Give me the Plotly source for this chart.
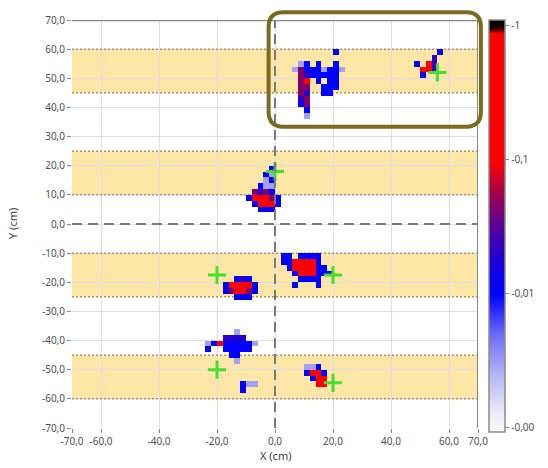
import numpy as np
import plotly.graph_objects as go

# ---- data -------------------------------------------------------------
# Measurement grid: 2 cm cells, centres from -69 to 69 cm on both axes
GRID_X = np.arange(-69, 70, 2)
GRID_Y = np.arange(-69, 70, 2)

# Cell amplitude per symbol (signed, as shown on the colour bar)
LEVELS = {"w": -0.003, "b": -0.01, "d": -0.02, "p": -0.045, "r": -0.3}

# Detected clusters: (x of first column, y of first row, rows top->bottom)
CLUSTER_A = (7, 59, [".......b.",
                     ".........",
                     ".wb.b..b.",
                     "wpbbbwbbw",
                     ".pdbbbbb.",
                     ".pr.b.bb.",
                     ".pp..bbb.",
                     ".pd..bb..",
                     ".dp......",
                     ".bp......",
                     "..b......",
                     "..w......"])
CLUSTER_B = (49, 59, ["....b",
                      "...d.",
                      "b.rd.",
                      ".rrd.",
                      ".b..."])
CLUSTER_C = (-9, 19, ["....b.",
                      "...bw.",
                      "...wb.",
                      "..bww.",
                      ".pdpb.",
                      "brrrpb",
                      ".brrrb",
                      "..bbb."])
CLUSTER_D = (3, -11, ["bb.bbbb..",
                      "bbrrrrb..",
                      ".brrrrbb.",
                      "..brrrbbb",
                      "...bbbb..",
                      "..b...b.."])
CLUSTER_E = (-17, -19, ["..bdb..",
                        "brrrrb.",
                        "bprrpb.",
                        "..bbb.."])
CLUSTER_F = (-23, -37, [".....w...",
                        "...dddd..",
                        "wbrbbbbbw",
                        "b..bbbbb.",
                        "....bb...",
                        ".....w..."])
CLUSTER_G = (-11, -55, ["bww",
                        "b.."])
CLUSTER_H = (11, -49, ["wwb..",
                       "brrb.",
                       ".brr.",
                       "..rr."])
CLUSTERS = [CLUSTER_A, CLUSTER_B, CLUSTER_C, CLUSTER_D,
            CLUSTER_E, CLUSTER_F, CLUSTER_G, CLUSTER_H]

# Reference positions (green crosses)
REF_X = [0, 56, 20, -20, -20, 20]
REF_Y = [18, 52, -17.5, -17.5, -50, -54.5]

# Lane bands (y ranges, cm)
BANDS = [(45, 60), (10, 25), (-25, -10), (-60, -45)]

# Axis ticks
X_TICKS = [-70, -60, -40, -20, 0, 20, 40, 60, 70]
Y_TICKS = list(range(-70, 71, 10))
CB_TICKS = [0, -1, -2, -3]
CB_LABELS = ["-1", "-0,1", "-0,01", "-0,00"]

# ---- build the cell matrix ------------------------------------------------
z = np.full((len(GRID_Y), len(GRID_X)), np.nan)
for x0, y0, rows in CLUSTERS:
    for r, row in enumerate(rows):
        for c, ch in enumerate(row):
            if ch in LEVELS:
                xi = int(np.where(GRID_X == x0 + 2 * c)[0][0])
                yi = int(np.where(GRID_Y == y0 - 2 * r)[0][0])
                z[yi, xi] = np.log10(abs(LEVELS[ch]))

ZMIN, ZMAX = -3.03, 0.044
stops = [(-3.03, "#f8f8fc"), (-2.9, "#ececf8"), (-2.6, "#b4b4f4"),
         (-2.3, "#6a6af8"), (-2.0, "#0000ff"), (-1.8, "#1400e0"),
         (-1.55, "#4a00a8"), (-1.3, "#90005c"), (-1.05, "#f00010"),
         (-0.98, "#ff0000"), (-0.06, "#ff0000"), (-0.02, "#200000"),
         (0.044, "#000000")]
colorscale = [[(v - ZMIN) / (ZMAX - ZMIN), c] for v, c in stops]


def fmt(v):
    return f"{v:.1f}".replace(".", ",")


FONT = "Noto Sans"
fig = go.Figure()

fig.add_trace(go.Heatmap(
    x=GRID_X, y=GRID_Y, z=z, zmin=ZMIN, zmax=ZMAX,
    colorscale=colorscale, hoverinfo="skip",
    colorbar=dict(
        x=1.027, xanchor="left", y=1.0, yanchor="top",
        len=1.0097, lenmode="fraction", thickness=16,
        xpad=0, ypad=0, outlinecolor="#8a8a8a", outlinewidth=1.5,
        tickvals=CB_TICKS, ticktext=CB_LABELS, ticks="outside",
        ticklen=4, tickcolor="#888888",
        tickfont=dict(family=FONT, size=10, color="#505050"),
    ),
))

fig.add_trace(go.Scatter(
    x=REF_X, y=REF_Y, mode="markers", hoverinfo="skip", showlegend=False,
    marker=dict(symbol="cross-thin", size=13,
                line=dict(width=3, color="#44e030")),
))

shapes = []
for lo, hi in BANDS:
    shapes.append(dict(type="rect", xref="x", yref="y", x0=-70, x1=70,
                       y0=lo, y1=hi, fillcolor="#fde6a6",
                       line=dict(width=0), layer="below"))
    for yv in (lo, hi):
        shapes.append(dict(type="line", xref="x", yref="y", x0=-70, x1=70,
                           y0=yv, y1=yv, layer="between",
                           line=dict(color="#b8905a", width=1.5,
                                     dash="2px,2px")))

# dashed zero lines
shapes.append(dict(type="line", xref="x", yref="y", x0=-70, x1=70, y0=0, y1=0,
                   line=dict(color="#7a7a7a", width=2, dash="10px,6px")))
shapes.append(dict(type="line", xref="x", yref="y", x0=0, x1=0, y0=-70, y1=70,
                   line=dict(color="#7a7a7a", width=2, dash="10px,6px")))
# top and right frame lines
shapes.append(dict(type="line", xref="x", yref="y", x0=-70, x1=70, y0=70, y1=70,
                   line=dict(color="#888888", width=2.5)))
shapes.append(dict(type="line", xref="x", yref="y", x0=70, x1=70, y0=-70, y1=70,
                   line=dict(color="#888888", width=2)))

# rounded highlight box (defined in cm, drawn in paper space so it is not clipped)
BOX = dict(x0=-2.2, x1=71.0, y0=33.4, y1=72.7)
def px_(xc):
    return (xc + 70) / 140
def py_(yc):
    return (yc + 70) / 140
L, R, B, T = px_(BOX["x0"]), px_(BOX["x1"]), py_(BOX["y0"]), py_(BOX["y1"])
rx, ry = 15 / 414, 15 / 411
path = (f"M{L+rx},{T} L{R-rx},{T} Q{R},{T} {R},{T-ry} "
        f"L{R},{B+ry} Q{R},{B} {R-rx},{B} "
        f"L{L+rx},{B} Q{L},{B} {L},{B+ry} "
        f"L{L},{T-ry} Q{L},{T} {L+rx},{T} Z")
shapes.append(dict(type="path", xref="paper", yref="paper", path=path,
                   line=dict(color="#7b6a20", width=4)))

# under-range marker at the foot of the colour bar
cb_x0 = 1.027 + 1.5 / 414
cb_x1 = 1.027 + 14.5 / 414
shapes.append(dict(type="rect", xref="paper", yref="paper",
                   x0=cb_x0, x1=cb_x1, y0=-0.0085, y1=0.0073,
                   fillcolor="#c4c4c4", line=dict(width=0)))
shapes.append(dict(type="line", xref="paper", yref="paper",
                   x0=cb_x0, x1=cb_x1, y0=0.0073, y1=0.0073,
                   line=dict(color="#444444", width=1.5)))

axis_common = dict(
    range=[-70, 70], showgrid=True, gridcolor="#dcdcf0", gridwidth=1,
    zeroline=False, showline=False, ticks="outside", ticklen=4,
    tickcolor="#888888", tickfont=dict(family=FONT, size=10, color="#505050"),
    fixedrange=True,
)

fig.update_layout(
    width=548, height=468,
    margin=dict(l=72, r=62, t=17, b=40),
    paper_bgcolor="white", plot_bgcolor="white",
    showlegend=False,
    xaxis=dict(axis_common, tickvals=X_TICKS, ticktext=[fmt(v) for v in X_TICKS]),
    yaxis=dict(axis_common, tickvals=Y_TICKS, ticktext=[fmt(v) for v in Y_TICKS]),
    shapes=shapes,
    annotations=[
        dict(text="X (cm)", xref="paper", yref="paper", x=0.5, y=0,
             xanchor="center", yanchor="middle", yshift=-27, showarrow=False,
             font=dict(family=FONT, size=11, color="#404040")),
        dict(text="Y (cm)", xref="paper", yref="paper", x=0, y=0.5,
             xanchor="center", yanchor="middle", xshift=-60, textangle=-90,
             showarrow=False, font=dict(family=FONT, size=11, color="#404040")),
    ],
)

fig.write_html("out.html")
